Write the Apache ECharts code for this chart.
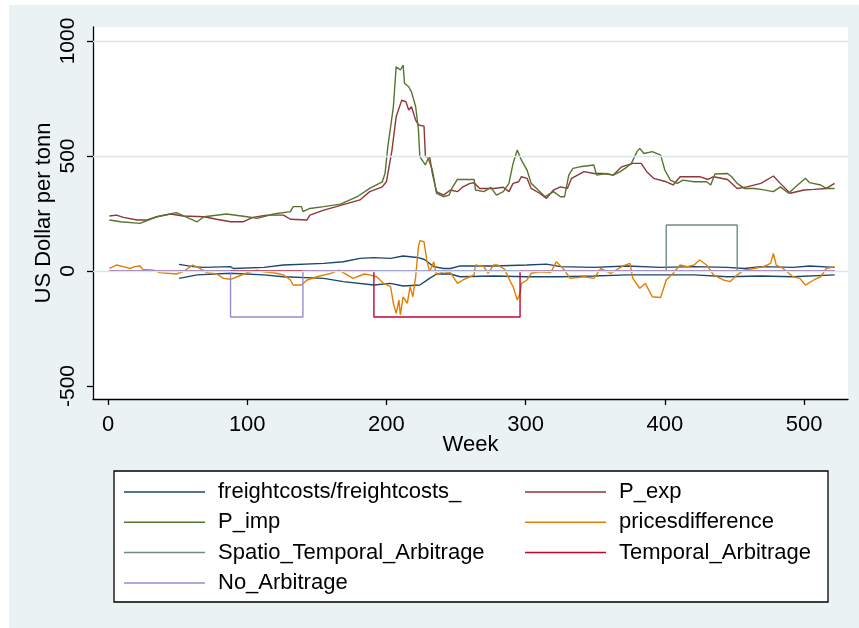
<!DOCTYPE html>
<html>
<head>
<meta charset="utf-8">
<script src="https://cdn.jsdelivr.net/npm/echarts@6/dist/echarts.min.js"></script>
<style>
html,body{margin:0;padding:0;background:#ffffff;}
#chart{width:859px;height:628px;}
</style>
</head>
<body>
<div id="chart"></div>
<script>
// ---- tick labels ----
const xTicks = [0, 100, 200, 300, 400, 500];
const yTicks = [-500, 0, 500, 1000];
const yGrid = [0, 500, 1000];

// ---- series names ----
const seriesNames = ['freightcosts/freightcosts_', 'P_exp', 'P_imp', 'pricesdifference',
  'Spatio_Temporal_Arbitrage', 'Temporal_Arbitrage', 'No_Arbitrage'];

// ---- freightcosts (upper) ----
const freightWeeks = [51, 61, 69, 88, 90, 112, 126, 155, 169, 181, 191, 203, 212, 222, 227, 234, 241, 246, 253, 277, 301, 315, 325, 349, 373, 397, 421, 445, 457, 469, 492, 504, 522];
const freightValues = [29, 19, 16, 19, 11, 16, 26, 33, 40, 55, 58, 55, 65, 59, 51, 19, 11, 11, 22, 22, 26, 30, 19, 16, 22, 16, 19, 16, 11, 19, 16, 22, 16];
// ---- freightcosts_ (lower) ----
const freight2Weeks = [51, 64, 88, 112, 126, 155, 169, 191, 203, 212, 224, 231, 236, 246, 253, 277, 301, 325, 349, 373, 397, 421, 445, 469, 492, 522];
const freight2Values = [-32, -17, -10, -17, -25, -32, -46, -61, -54, -65, -61, -32, -13, -13, -25, -22, -25, -25, -22, -17, -17, -17, -25, -22, -25, -17];

// ---- P_exp ----
const pExpWeeks = [1, 6, 11, 21, 28, 35, 45, 54, 69, 78, 88, 97, 104, 114, 126, 131, 143, 145, 155, 164, 174, 181, 188, 197, 200, 204, 207, 211, 214, 216, 218, 221, 223, 227, 228, 231, 233, 236, 241, 246, 251, 255, 260, 263, 267, 277, 284, 288, 291, 295, 297, 301, 304, 310, 315, 320, 325, 330, 333, 342, 349, 356, 363, 369, 377, 383, 387, 392, 401, 406, 411, 425, 431, 435, 445, 452, 459, 469, 478, 483, 490, 500, 507, 516, 522];
const pExpValues = [239, 243, 233, 222, 222, 236, 248, 239, 236, 225, 214, 214, 233, 243, 243, 225, 222, 243, 265, 280, 297, 309, 345, 366, 388, 526, 671, 743, 736, 700, 714, 656, 635, 630, 497, 497, 424, 345, 330, 352, 345, 366, 381, 384, 359, 359, 364, 345, 381, 388, 410, 403, 359, 338, 316, 352, 366, 359, 403, 432, 424, 424, 417, 453, 468, 468, 432, 403, 388, 374, 410, 410, 398, 410, 398, 359, 366, 381, 413, 381, 338, 352, 355, 359, 381];

// ---- P_imp ----
const pImpWeeks = [1, 9, 23, 35, 49, 64, 69, 85, 100, 107, 119, 131, 133, 139, 140, 145, 155, 167, 179, 188, 197, 199, 201, 205, 207, 210, 212, 213, 216, 218, 221, 223, 224, 228, 230, 233, 236, 241, 245, 247, 251, 260, 263, 264, 270, 275, 279, 284, 288, 291, 294, 297, 301, 304, 309, 314, 320, 325, 328, 331, 334, 339, 349, 351, 358, 363, 368, 373, 376, 380, 382, 385, 391, 397, 400, 404, 409, 413, 421, 430, 433, 436, 445, 448, 452, 457, 464, 469, 478, 483, 489, 494, 501, 504, 512, 516, 522];
const pImpValues = [222, 214, 207, 236, 254, 214, 236, 248, 236, 229, 248, 258, 280, 280, 258, 272, 280, 291, 323, 359, 388, 424, 540, 714, 888, 874, 895, 816, 801, 779, 714, 613, 497, 461, 490, 439, 338, 323, 330, 359, 398, 398, 398, 352, 345, 364, 330, 345, 381, 468, 526, 482, 439, 381, 352, 323, 345, 323, 323, 417, 446, 453, 461, 417, 424, 417, 432, 453, 468, 519, 533, 511, 519, 504, 439, 395, 381, 395, 388, 388, 374, 422, 424, 410, 381, 359, 359, 355, 345, 366, 338, 366, 403, 384, 374, 359, 359];

// ---- pricesdifference ----
const diffWeeks = [1, 6, 11, 16, 19, 23, 25, 33, 37, 49, 54, 61, 66, 71, 78, 83, 88, 93, 102, 107, 112, 121, 126, 131, 133, 139, 143, 150, 160, 166, 169, 176, 184, 188, 193, 198, 203, 205, 207, 209, 210, 212, 215, 217, 219, 221, 223, 224, 227, 229, 231, 234, 236, 241, 246, 251, 255, 260, 263, 264, 270, 273, 277, 280, 285, 289, 291, 294, 296, 297, 301, 304, 310, 318, 322, 327, 332, 342, 349, 354, 361, 370, 375, 377, 382, 386, 391, 397, 401, 406, 411, 416, 421, 425, 430, 435, 442, 447, 452, 457, 464, 471, 476, 478, 480, 485, 492, 497, 501, 507, 512, 516, 522];
const diffValues = [11, 26, 19, 11, 19, 22, 7, 4, -7, -13, -3, 26, 11, -7, -13, -32, -36, -25, -3, 4, -3, -10, -17, -39, -61, -61, -39, -25, -10, 4, -7, -32, -13, -17, -25, -54, -68, -141, -184, -126, -191, -112, -141, -68, -112, -25, 106, 132, 127, 48, -3, 40, -17, -3, -7, -54, -39, -25, -17, 26, 19, -10, 26, 26, 7, -46, -68, -126, -97, -54, -39, -10, -3, -7, 40, 11, -32, -25, -32, 11, -10, 22, 33, -32, -75, -54, -112, -115, -39, -10, 26, 19, 26, 48, 26, -17, -39, -46, -17, 4, 11, 19, 33, 76, 26, 11, -25, -32, -61, -39, -25, 11, 19];

// ---- arbitrage regime indicators ----
const spatioWeeks = [1, 401, 401, 452, 452, 522];
const spatioValues = [0, 0, 200, 200, 0, 0];
const temporalWeeks = [1, 191, 191, 296, 296, 522];
const temporalValues = [0, 0, -200, -200, 0, 0];
const noArbWeeks = [1, 88, 88, 140, 140, 522];
const noArbValues = [0, 0, -200, -200, 0, 0];

const colors = ['#1A476F', '#90353B', '#55752F', '#E37E00', '#6E8E84', '#C10534', '#938DD2'];

function zip(w, v) { return w.map((x, i) => [x, v[i]]); }

const FONT = '"Liberation Sans", Arial, Helvetica, sans-serif';

function lineSeries(name, w, v, color) {
  return {
    type: 'line', name: name, data: zip(w, v), symbol: 'none', showSymbol: false,
    lineStyle: { color: color, width: 1.4 }, itemStyle: { color: color },
    animation: false, silent: true, z: 3
  };
}

const chart = echarts.init(document.getElementById('chart'), null, { renderer: 'canvas' });

const legendText = { fontSize: 22, lineHeight: 22, color: '#000', fontFamily: FONT, padding: [0, 0, 0, 8] };

const legendCommon = {
  orient: 'vertical', top: 481, padding: 0, itemWidth: 81, itemHeight: 1.5, itemGap: 8.3,
  icon: 'rect', textStyle: legendText, selectedMode: false
};

const option = {
  animation: false,
  textStyle: { fontFamily: FONT },
  graphic: [
    { type: 'rect', shape: { x: 9, y: 5, width: 850, height: 623 }, style: { fill: '#EAF2F3' }, z: -10, silent: true },
    { type: 'rect', shape: { x: 114, y: 471, width: 714, height: 131 }, style: { fill: '#ffffff', stroke: '#000', lineWidth: 1.3 }, z: -5, silent: true }
  ],
  grid: { left: 93, top: 27, width: 755, height: 372, show: true, backgroundColor: '#ffffff', borderWidth: 0 },
  legend: [
    Object.assign({ data: [seriesNames[0], seriesNames[2], seriesNames[4], seriesNames[6]], left: 124 }, legendCommon),
    Object.assign({ data: [seriesNames[1], seriesNames[3], seriesNames[5]], left: 525 }, legendCommon)
  ],
  xAxis: {
    type: 'value', min: -10.8, max: 531.6,
    name: 'Week', nameLocation: 'middle', nameGap: 35, nameMoveOverlap: false,
    nameTextStyle: { fontSize: 22, color: '#000', fontFamily: FONT },
    axisLine: { show: true, onZero: false, lineStyle: { color: '#000', width: 1.3 } },
    axisTick: { show: true, length: 6, customValues: xTicks, lineStyle: { color: '#000', width: 1.3 } },
    axisLabel: { show: true, customValues: xTicks, fontSize: 22, color: '#000', margin: 15, fontFamily: FONT, formatter: v => String(v) },
    splitLine: { show: false }
  },
  yAxis: {
    type: 'value', min: -556.5, max: 1060.9,
    name: 'US Dollar per tonn', nameLocation: 'middle', nameGap: 38, nameRotate: 90, nameMoveOverlap: false,
    nameTextStyle: { fontSize: 22, color: '#000', fontFamily: FONT },
    axisLine: { show: true, onZero: false, lineStyle: { color: '#000', width: 1.3 } },
    axisTick: { show: true, length: 6, customValues: yTicks, lineStyle: { color: '#000', width: 1.3 } },
    axisLabel: { show: true, customValues: yTicks, rotate: 90, fontSize: 21, color: '#000', margin: 14, fontFamily: FONT, formatter: v => String(v) },
    splitLine: { show: false }
  },
  series: [
    {
      type: 'line', name: '__grid', data: [], silent: true, z: 1,
      markLine: {
        silent: true, symbol: 'none', animation: false, label: { show: false },
        lineStyle: { color: '#DCE6E9', width: 1.3, type: 'solid' },
        data: yGrid.map(v => ({ yAxis: v }))
      }
    },
    lineSeries(seriesNames[0], freightWeeks, freightValues, colors[0]),
    lineSeries(seriesNames[0], freight2Weeks, freight2Values, colors[0]),
    lineSeries(seriesNames[1], pExpWeeks, pExpValues, colors[1]),
    lineSeries(seriesNames[2], pImpWeeks, pImpValues, colors[2]),
    lineSeries(seriesNames[3], diffWeeks, diffValues, colors[3]),
    lineSeries(seriesNames[4], spatioWeeks, spatioValues, colors[4]),
    lineSeries(seriesNames[5], temporalWeeks, temporalValues, colors[5]),
    lineSeries(seriesNames[6], noArbWeeks, noArbValues, colors[6])
  ]
};
chart.setOption(option);
</script>
</body>
</html>
